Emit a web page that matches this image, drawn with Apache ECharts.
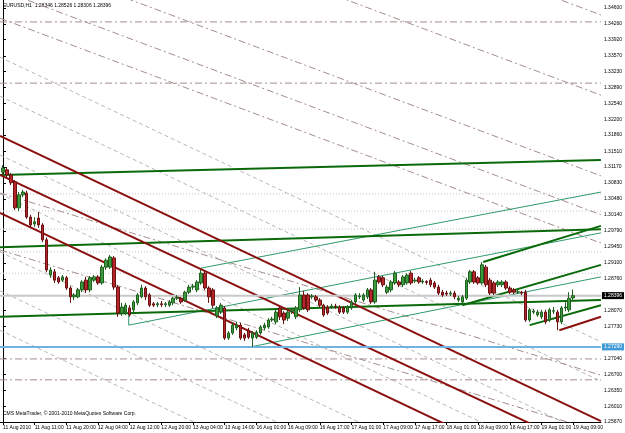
<!DOCTYPE html>
<html><head><meta charset="utf-8">
<script src="https://cdn.jsdelivr.net/npm/echarts@6/dist/echarts.min.js"></script>
<style>html,body{margin:0;padding:0;background:#fff}#c{width:625px;height:433px}</style>
</head><body><div id="c"></div>
<script>
// ---- data ----
const xLabels = ["11 Aug 2010","11 Aug 11:00","11 Aug 20:00","12 Aug 04:00","12 Aug 12:00","12 Aug 20:00","13 Aug 04:00","13 Aug 14:00","16 Aug 01:00","16 Aug 09:00","16 Aug 17:00","17 Aug 01:00","17 Aug 09:00","17 Aug 17:00","18 Aug 01:00","18 Aug 09:00","18 Aug 17:00","19 Aug 01:00","19 Aug 09:00"];
const xLabelBars = [0,8,16,24,32,40,48,56,64,72,80,88,96,104,112,120,128,136,144];
const yTicks = [1.34600,1.34260,1.33920,1.33570,1.33230,1.32890,1.32540,1.32200,1.31860,1.31510,1.31170,1.30830,1.30480,1.30140,1.29790,1.29450,1.29100,1.28760,1.28070,1.27730,1.27040,1.26700,1.26350,1.26010,1.25670];
const opens = [1.3106,1.3111,1.3100,1.3085,1.3029,1.3057,1.3061,1.3009,1.2994,1.3007,
1.2992,1.2960,1.2884,1.2891,1.2878,1.2873,1.2878,1.2856,1.2837,1.2837,
1.2852,1.2873,1.2852,1.2873,1.2880,1.2867,1.2901,1.2901,1.2921,1.2858,
1.2802,1.2804,1.2813,1.2809,1.2824,1.2837,1.2856,1.2841,1.2822,1.2820,
1.2822,1.2820,1.2819,1.2824,1.2834,1.2834,1.2830,1.2847,1.2858,1.2852,
1.2867,1.2888,1.2856,1.2852,1.2796,1.2804,1.2813,1.2748,1.2759,1.2770,
1.2776,1.2755,1.2765,1.2748,1.2750,1.2759,1.2770,1.2772,1.2787,1.2783,
1.2813,1.2802,1.2791,1.2806,1.2794,1.2809,1.2841,1.2841,1.2837,1.2837,
1.2830,1.2819,1.2815,1.2815,1.2817,1.2815,1.2813,1.2804,1.2813,1.2826,
1.2837,1.2830,1.2837,1.2852,1.2826,1.2880,1.2878,1.2847,1.2852,1.2867,
1.2869,1.2863,1.2867,1.2888,1.2871,1.2878,1.2869,1.2870,1.2873,1.2867,
1.2858,1.2847,1.2845,1.2843,1.2845,1.2830,1.2826,1.2834,1.2869,1.2891,
1.2878,1.2867,1.2901,1.2873,1.2867,1.2863,1.2863,1.2869,1.2856,1.2852,
1.2847,1.2847,1.2847,1.2787,1.2804,1.2798,1.2794,1.2804,1.2787,1.2806,
1.2804,1.2783,1.2813,1.2809,1.28346];
const closes = [1.3115,1.3100,1.3083,1.3029,1.3057,1.3063,1.3009,1.2992,1.2999,1.2992,
1.2960,1.2895,1.2895,1.2873,1.2869,1.2880,1.2856,1.2837,1.2841,1.2852,
1.2869,1.2852,1.2878,1.2880,1.2867,1.2901,1.2916,1.2923,1.2858,1.2802,
1.2815,1.2819,1.2798,1.2826,1.2841,1.2856,1.2837,1.2819,1.2819,1.2822,
1.2820,1.2822,1.2826,1.2834,1.2836,1.2826,1.2847,1.2858,1.2860,1.2869,
1.2888,1.2856,1.2837,1.2819,1.2813,1.2819,1.2748,1.2759,1.2776,1.2776,
1.2748,1.2748,1.2750,1.2759,1.2761,1.2772,1.2776,1.2787,1.2789,1.2804,
1.2794,1.2787,1.2804,1.2809,1.2813,1.2841,1.2813,1.2809,1.2839,1.2830,
1.2819,1.2798,1.2802,1.2817,1.2816,1.2804,1.2804,1.2815,1.2826,1.2841,
1.2839,1.2841,1.2852,1.2826,1.2873,1.2869,1.2863,1.2858,1.2869,1.2888,
1.2863,1.2880,1.2884,1.2867,1.2873,1.2869,1.2871,1.2868,1.2863,1.2858,
1.2845,1.2841,1.2843,1.2845,1.2837,1.2834,1.2837,1.2873,1.2891,1.2869,
1.2867,1.2906,1.2863,1.2845,1.2845,1.2869,1.2869,1.2856,1.2847,1.2847,
1.2848,1.2845,1.2787,1.2809,1.2806,1.2804,1.2804,1.2783,1.2809,1.2807,
1.2783,1.2813,1.2815,1.2834,1.28396];
const lows = [1.3100,1.3095,1.3078,1.3024,1.3022,1.3052,1.3005,1.2986,1.2988,1.2986,
1.2955,1.2890,1.2878,1.2867,1.2865,1.2869,1.2852,1.2824,1.2830,1.2834,
1.2847,1.2845,1.2847,1.2869,1.2863,1.2863,1.2895,1.2897,1.2852,1.2794,
1.2796,1.2798,1.2794,1.2802,1.2819,1.2834,1.2830,1.2815,1.2815,1.2815,
1.2815,1.2815,1.2815,1.2819,1.2830,1.2822,1.2826,1.2843,1.2852,1.2847,
1.2863,1.2852,1.2824,1.2813,1.2791,1.2800,1.2744,1.2744,1.2755,1.2765,
1.2744,1.2742,1.2746,1.2729,1.2746,1.2755,1.2765,1.2768,1.2783,1.2778,
1.2787,1.2778,1.2785,1.2800,1.2789,1.2804,1.2809,1.2804,1.2832,1.2826,
1.2815,1.2794,1.2798,1.2811,1.2811,1.2800,1.2800,1.2800,1.2809,1.2822,
1.2832,1.2826,1.2832,1.2822,1.2822,1.2865,1.2858,1.2843,1.2847,1.2863,
1.2858,1.2858,1.2863,1.2863,1.2867,1.2865,1.2865,1.2863,1.2858,1.2854,
1.2841,1.2837,1.2839,1.2839,1.2832,1.2826,1.2822,1.2830,1.2865,1.2865,
1.2863,1.2863,1.2858,1.2841,1.2841,1.2858,1.2858,1.2852,1.2843,1.2843,
1.2843,1.2841,1.2783,1.2783,1.2800,1.2794,1.2789,1.2778,1.2783,1.2800,
1.2765,1.2778,1.2806,1.2804,1.28306];
const highs = [1.3121,1.3117,1.3104,1.3089,1.3063,1.3068,1.3066,1.3014,1.3009,1.3020,
1.2996,1.2965,1.2901,1.2897,1.2882,1.2884,1.2882,1.2860,1.2845,1.2856,
1.2873,1.2880,1.2882,1.2884,1.2884,1.2906,1.2920,1.2927,1.2925,1.2862,
1.2824,1.2824,1.2819,1.2830,1.2845,1.2863,1.2860,1.2845,1.2826,1.2826,
1.2828,1.2826,1.2830,1.2837,1.2841,1.2837,1.2850,1.2863,1.2865,1.2873,
1.2895,1.2893,1.2860,1.2856,1.2817,1.2824,1.2817,1.2763,1.2781,1.2783,
1.2781,1.2759,1.2770,1.2763,1.2765,1.2776,1.2781,1.2791,1.2794,1.2809,
1.2817,1.2806,1.2809,1.2813,1.2817,1.2858,1.2850,1.2845,1.2843,1.2841,
1.2834,1.2822,1.2819,1.2822,1.2822,1.2819,1.2817,1.2819,1.2830,1.2845,
1.2845,1.2845,1.2856,1.2856,1.2891,1.2884,1.2882,1.2863,1.2873,1.2893,
1.2873,1.2884,1.2888,1.2893,1.2878,1.2882,1.2875,1.2873,1.2878,1.2871,
1.2863,1.2852,1.2850,1.2850,1.2850,1.2839,1.2841,1.2878,1.2895,1.2895,
1.2882,1.2912,1.2906,1.2878,1.2871,1.2873,1.2873,1.2873,1.2860,1.2856,
1.2852,1.2850,1.2852,1.2813,1.2811,1.2809,1.2809,1.2809,1.2813,1.2815,
1.2809,1.2817,1.2830,1.2847,1.28526];
const titleText = "EURUSD,H1  1.28346 1.28526 1.28306 1.28396";
const footerText = "CMS MetaTrader, \u00a9 2001-2010 MetaQuotes Software Corp.";
const currentPrice = 1.28396;
const bluePrice = 1.27290;
// trend lines: [startBar, startPrice, endBar, endPrice]
const redLines = [[-0.75,1.3184,151,1.2569],[-0.75,1.3100,151,1.2492],[-0.75,1.3018,151,1.2403],[140.5,1.2765,151,1.2794]];
const greenThick = [[-0.75,1.3100,151,1.3132],[-0.75,1.2944,151,1.2983],[-0.75,1.2794,151,1.2830],[121.25,1.2912,151,1.2990],[116,1.2819,151,1.2906],[133,1.2776,151,1.2819]];
const greenThin = [[50,1.2899,151,1.3063],[31.75,1.2776,151,1.2975],[62.5,1.2729,151,1.2880],[31.75,1.2798,31.75,1.2776]];
const dashDot = [[-0.75,1.3430,151,1.3430],[-0.75,1.3298,151,1.3298],[-0.75,1.2703,151,1.2703],[-0.75,1.2658,151,1.2658],
  [-0.75,1.3438,151,1.2953],[-0.75,1.3499,151,1.3014],[-0.75,1.3583,151,1.3098],[-0.75,1.3758,151,1.3272],[-0.75,1.3930,151,1.3445],
  [-0.75,1.3061,151,1.2668],[-0.75,1.2938,151,1.2545]];
const dashGray = [[-0.75,1.3354,151,1.2740],[-0.75,1.3270,151,1.2655],[-0.75,1.3143,151,1.2528],[-0.75,1.3059,151,1.2444],
  [-0.75,1.2934,151,1.2319],[-0.75,1.2850,151,1.2235],[-0.75,1.2765,151,1.2151]];
const dotted = [[-0.75,1.3059,151,1.3059],[-0.75,1.3022,151,1.3022],[-0.75,1.2983,151,1.2983],[-0.75,1.2934,151,1.2934],[-0.75,1.2888,151,1.2888]];

// ---- chart ----
const yMin = 1.2567, yMax = 1.34773;
const chart = echarts.init(document.getElementById('c'), null, {renderer:'canvas'});
const labelMap = {}; xLabelBars.forEach((b,i)=>labelMap[b]=xLabels[i]);
const FONT = 'Liberation Sans';
function segSeries(arr, style, z){
  return arr.map(s=>({type:'line', data:[[s[0],s[1]],[s[2],s[3]]], symbol:'none', silent:true, animation:false, clip:true, z:z, lineStyle:style}));
}
function levelSeries(price, color, bg, fg){
  return {type:'line', data:[[-0.75,price],[151,price]], symbol:'none', silent:true, animation:false, z:4,
    lineStyle:{color:color, width:2},
    endLabel:{show:true, formatter:price.toFixed(5), distance:1, color:fg, backgroundColor:bg, fontSize:5, fontFamily:FONT, padding:[1,2,1,2]}};
}
const series = [];
series.push(...segSeries(dotted, {color:'#c4c4c4', width:1, type:[1,2]}, 1));
series.push(...segSeries(dashGray, {color:'#b8b8b8', width:1, type:[4,3]}, 1));
series.push(...segSeries(dashDot, {color:'#a58d8d', width:1, type:[7,3,2,3]}, 1));
series.push(levelSeries(currentPrice, '#c8c8c8', '#000', '#fff'));
series.push(levelSeries(bluePrice, '#6fb3de', '#3f9ad6', '#fff'));
series.push(...segSeries(greenThin, {color:'#2f9a6a', width:1}, 3));
series.push(...segSeries(greenThick, {color:'#0a6a0a', width:2}, 3));
series.push(...segSeries(redLines, {color:'#8b1010', width:2}, 3));
series.push({
  type:'candlestick', z:5, animation:false,
  data: opens.map((o,i)=>[i,o,closes[i],lows[i],highs[i]]),
  encode:{x:0, y:[1,2,3,4]},
  barWidth:3,
  itemStyle:{color:'#3c9a3c', color0:'#b5262a', borderColor:'#1f5f1f', borderColor0:'#6a1212', borderWidth:1}
});
chart.setOption({
  animation:false,
  backgroundColor:'#fff',
  grid:{left:0, top:0, width:607, height:422, containLabel:false},
  xAxis:{type:'value', min:-0.75, max:151,
    axisLine:{show:true, lineStyle:{color:'#000', width:1}},
    axisTick:{show:true, customValues:xLabelBars, length:3, lineStyle:{color:'#000'}},
    axisLabel:{show:true, customValues:xLabelBars, formatter:v=>labelMap[Math.round(v)]||'', fontSize:5, fontFamily:FONT, color:'#000', align:'left', margin:3},
    splitLine:{show:false}},
  yAxis:{type:'value', position:'right', min:yMin, max:yMax,
    axisLine:{show:true, lineStyle:{color:'#000', width:1}},
    axisTick:{show:true, customValues:yTicks, length:3, lineStyle:{color:'#000'}},
    axisLabel:{show:true, customValues:yTicks, formatter:v=>v.toFixed(5), fontSize:5, fontFamily:FONT, color:'#000', margin:3},
    splitLine:{show:false}},
  graphic:[
    {type:'text', left:3, top:3, style:{text:titleText, fontSize:5, fontFamily:FONT, fill:'#000'}},
    {type:'text', left:3, top:411, style:{text:footerText, fontSize:5, fontFamily:FONT, fill:'#000'}}
  ],
  series:series
});
</script></body></html>
